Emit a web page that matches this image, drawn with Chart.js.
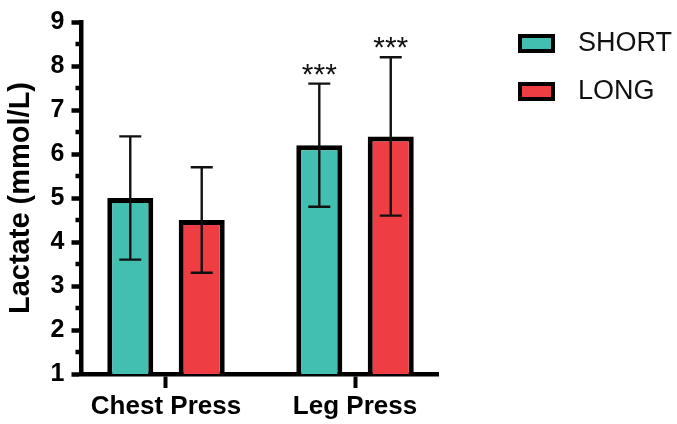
<!DOCTYPE html>
<html>
<head>
<meta charset="utf-8">
<script src="https://cdn.jsdelivr.net/npm/chart.js@4"></script>
<style>
  html, body { margin: 0; padding: 0; background: #fff; }
  #wrap { width: 677px; height: 424px; }
</style>
</head>
<body>
<div id="wrap"><canvas id="chart-lactate"></canvas></div>
<script>
// Lactate by exercise and set length (mean +/- SD)

let categories = ['Chest Press', 'Leg Press']
let seriesNames = ['SHORT', 'LONG']
let shortMean = [5.0, 6.2]
let shortSd   = [1.4, 1.4]
let longMean  = [4.5, 6.4]
let longSd    = [1.2, 1.8]
let shortSig  = ['', '***']
let longSig   = ['', '***']
let yTicks    = [1, 2, 3, 4, 5, 6, 7, 8, 9]

let teal = 'rgb(67, 191, 177)'
let red  = 'rgb(239, 62, 67)'
let ink  = '#000'
let family = "'Liberation Sans', Arial, sans-serif"

Chart.defaults.color = ink
Chart.defaults.font.family = family

// error bars, stars, half-unit ticks, legend
let extras = {
	id: 'extras',
	afterDatasetsDraw(chart) {
		let ctx = chart.ctx
		let y = chart.scales.y
		ctx.save()
		chart.data.datasets.forEach((ds, d) => {
			let meta = chart.getDatasetMeta(d)
			meta.data.forEach((bar, i) => {
				let m = ds.data[i].y
				let hi = y.getPixelForValue(m + ds.sd[i])
				let lo = y.getPixelForValue(m - ds.sd[i])
				ctx.strokeStyle = '#111'
				ctx.lineWidth = 2.4
				ctx.beginPath()
				ctx.moveTo(bar.x, lo); ctx.lineTo(bar.x, hi)
				ctx.moveTo(bar.x - 11, hi); ctx.lineTo(bar.x + 11, hi)
				ctx.moveTo(bar.x - 11, lo); ctx.lineTo(bar.x + 11, lo)
				ctx.stroke()
				if (ds.sig[i]) {
					ctx.fillStyle = '#111'
					ctx.font = '30px ' + family
					ctx.textAlign = 'center'
					ctx.textBaseline = 'alphabetic'
					ctx.fillText(ds.sig[i], bar.x, hi)
				}
			})
		})
		ctx.restore()
	},
	afterDraw(chart) {
		let ctx = chart.ctx
		let y = chart.scales.y
		let left = chart.chartArea.left
		ctx.save()
		ctx.strokeStyle = ink
		ctx.lineWidth = 4.5
		ctx.beginPath()
		for (let i = 0; i < yTicks.length - 1; i++) {
			let py = y.getPixelForValue(yTicks[i] + 0.5)
			ctx.moveTo(left - 6, py); ctx.lineTo(left, py)
		}
		ctx.stroke()

		// legend
		chart.data.datasets.forEach((ds, d) => {
			let top = 34 + d * 48
			ctx.fillStyle = ink
			ctx.fillRect(518, top, 37, 19)
			ctx.fillStyle = ds.backgroundColor
			ctx.fillRect(522, top + 4, 29, 11)
			ctx.fillStyle = '#111'
			ctx.font = '27px ' + family
			ctx.textAlign = 'left'
			ctx.textBaseline = 'middle'
			ctx.fillText(ds.label, 578, top + 10)
		})
		ctx.restore()
	}
}

let toPoints = (vals) => vals.map((v, i) => ({ x: i, y: v }))

let dataLactate = {
	datasets: [
		{
			label: seriesNames[0],
			data: toPoints(shortMean),
			sd: shortSd,
			sig: shortSig,
			backgroundColor: teal,
		},
		{
			label: seriesNames[1],
			data: toPoints(longMean),
			sd: longSd,
			sig: longSig,
			backgroundColor: red,
		}
	]
}

var lactateChart = new Chart(document.getElementById('chart-lactate'), {
	type: 'bar',
	data: dataLactate,
	plugins: [extras],
	options: {
		responsive: true,
		maintainAspectRatio: false,
		animation: false,
		layout: { padding: { top: 20, right: 239, left: 0, bottom: 0 } },
		datasets: {
			bar: {
				borderColor: ink,
				borderWidth: 5,
				categoryPercentage: 0.756,
				barPercentage: 0.644,
			}
		},
		plugins: {
			legend: { display: false },
			tooltip: { enabled: false },
		},
		scales: {
			x: {
				type: 'linear',
				offset: false,
				min: -0.447,
				max: 1.439,
				afterBuildTicks: (scale) => {
					scale.ticks = categories.map((c, i) => ({ value: i }))
				},
				afterFit: (scale) => { scale.height = 50 },
				ticks: {
					callback: (v) => categories[v],
					font: { size: 26, weight: 'bold' },
					padding: 3,
					maxRotation: 0,
				},
				grid: {
					offset: false,
					drawOnChartArea: false,
					tickLength: 14,
					tickWidth: 4,
					tickColor: ink,
				},
				border: { color: ink, width: 4.5 },
			},
			y: {
				min: 1,
				max: 9,
				afterFit: (scale) => { scale.width = 81.5 },
				ticks: {
					stepSize: 1,
					font: { size: 25, weight: 'bold' },
					padding: 7,
				},
				grid: {
					drawOnChartArea: false,
					tickLength: 10,
					tickWidth: 4.5,
					tickColor: ink,
				},
				border: { color: ink, width: 4.5 },
				title: {
					display: true,
					text: 'Lactate (mmol/L)',
					font: { size: 29, weight: 'bold' },
					padding: { top: 4, bottom: 0 },
				},
			}
		}
	}
})
</script>
</body>
</html>
